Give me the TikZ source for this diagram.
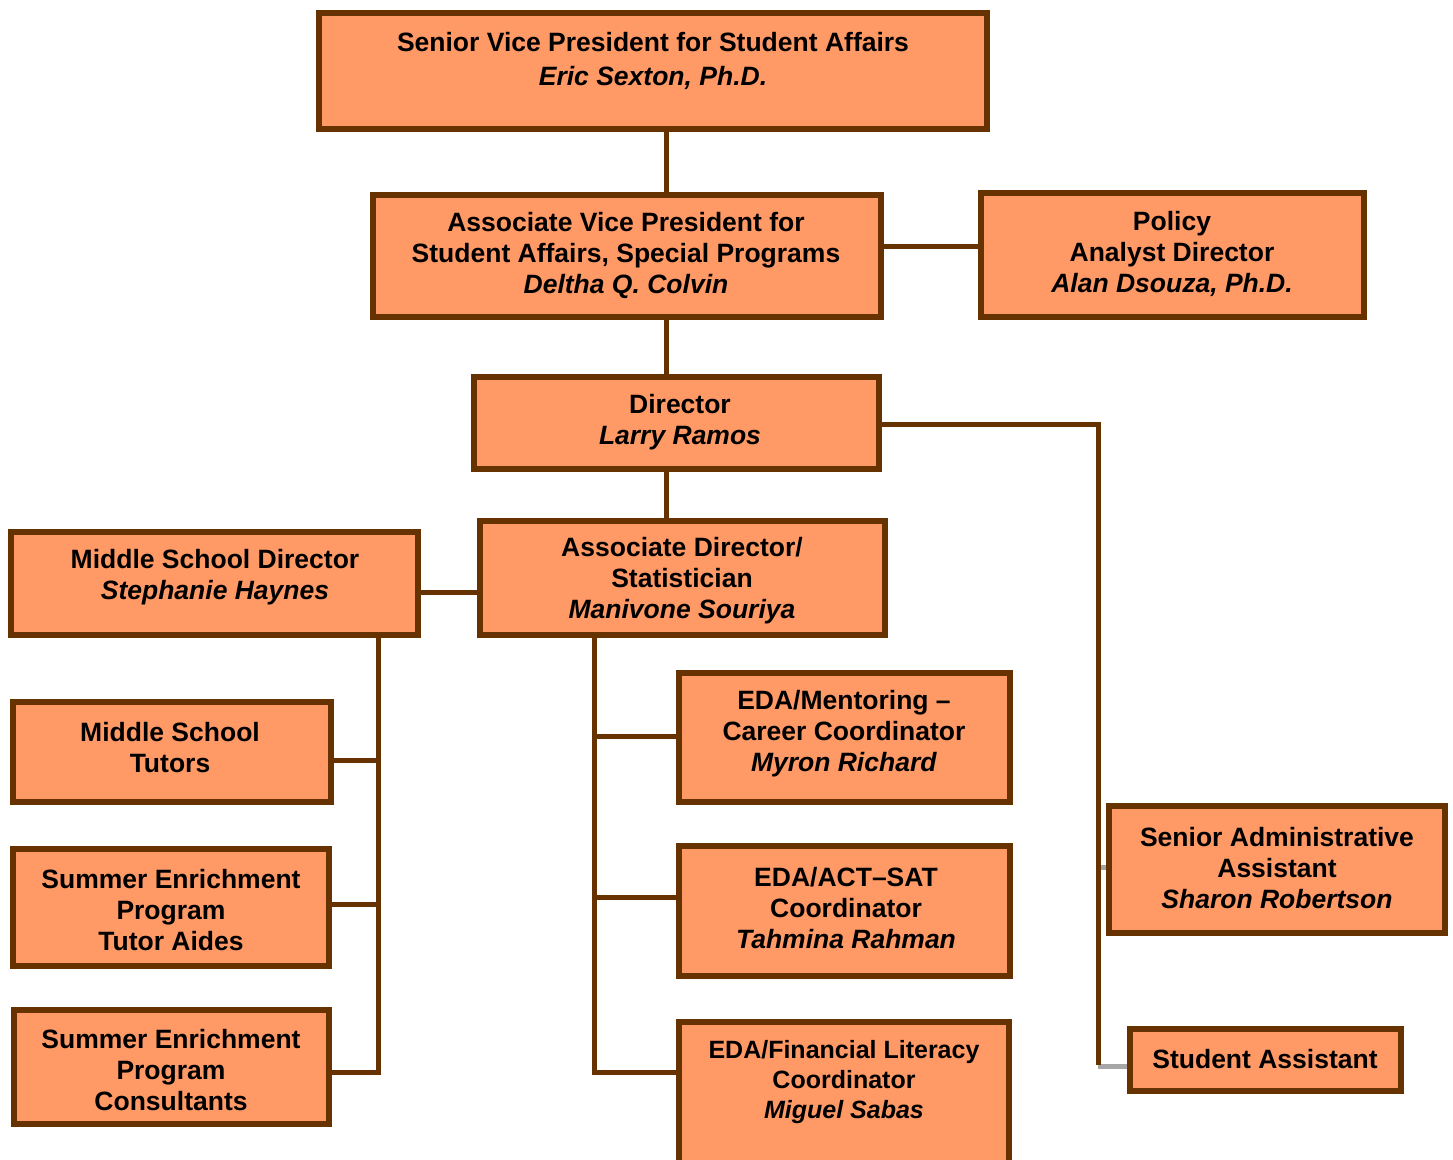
\documentclass[tikz,border=0pt]{standalone}
\usepackage{fontspec}
\setmainfont{Liberation Sans}
\definecolor{org}{HTML}{FF9966}
\definecolor{brd}{HTML}{663300}
\definecolor{gry}{HTML}{A6A6A6}
\pgfdeclarelayer{bg}
\pgfsetlayers{bg,main}
\begin{document}
\begin{tikzpicture}[x=1pt,y=-1pt,
  box/.style={draw=brd, fill=org, line width=6pt, inner sep=0pt, rectangle},
  txt/.style={font=\fontsize{26.5}{31}\selectfont\bfseries, align=center, inner sep=0pt, text=black, yshift=-2.5pt},
  conn/.style={draw=brd, line width=5pt, line join=miter},
  grayc/.style={draw=gry, line width=5pt}]
\useasboundingbox (0,0) rectangle (1453,1159);
% boxes
\node[box, minimum width=668, minimum height=116] (svp) at (653,71) {};
\node[txt, font=\fontsize{26.5}{34}\selectfont\bfseries] (svpt) at (653,58) {Senior Vice President for Student Affairs\\\textit{Eric Sexton, Ph.D.}};
\node[box, minimum width=508, minimum height=122] (avp) at (627,256) {};
\node[txt] (avpt) at (626,252.5) {Associate Vice President for\\Student Affairs, Special Programs\\\textit{Deltha Q. Colvin}};
\node[box, minimum width=383, minimum height=124] (pol) at (1172.5,255) {};
\node[txt] (polt) at (1172,251) {Policy\\Analyst Director\\\textit{Alan Dsouza, Ph.D.}};
\node[box, minimum width=405, minimum height=92] (dir) at (676.5,423) {};
\node[txt] (dirt) at (680,419.5) {Director\\\textit{Larry Ramos}};
\node[box, minimum width=405, minimum height=114] (ad) at (682.5,578) {};
\node[txt] (adt) at (682,578.5) {Associate Director/\\Statistician\\\textit{Manivone Souriya}};
\node[box, minimum width=407, minimum height=103] (msd) at (214.5,583.5) {};
\node[txt] (msdt) at (215,574.5) {Middle School Director\\\textit{Stephanie Haynes}};
\node[box, minimum width=318, minimum height=100] (mst) at (172,752) {};
\node[txt] (mstt) at (170,745.5) {Middle School\\Tutors};
\node[box, minimum width=316, minimum height=117] (sea) at (171,907.5) {};
\node[txt] (seat) at (171,907.5) {Summer Enrichment\\Program\\Tutor Aides};
\node[box, minimum width=315, minimum height=114] (sec) at (171.5,1067) {};
\node[txt] (sect) at (171,1068) {Summer Enrichment\\Program\\Consultants};
\node[box, minimum width=331, minimum height=129] (edam) at (844.5,737.5) {};
\node[txt] (edamt) at (844,731.5) {EDA/Mentoring --\\Career Coordinator\\\textit{Myron Richard}};
\node[box, minimum width=331, minimum height=130] (edas) at (844.5,911) {};
\node[txt] (edast) at (846,905.5) {EDA/ACT--SAT\\Coordinator\\\textit{Tahmina Rahman}};
\node[box, minimum width=330, minimum height=143] (edaf) at (844,1093.5) {};
\node[txt, font=\fontsize{25}{30}\selectfont\bfseries] (edaft) at (844,1080) {EDA/Financial Literacy\\Coordinator\\\textit{Miguel Sabas}};
\node[box, minimum width=336, minimum height=127] (saa) at (1277,869.5) {};
\node[txt] (saat) at (1277,865.5) {Senior Administrative\\Assistant\\\textit{Sharon Robertson}};
\node[box, minimum width=271, minimum height=62] (sa) at (1265.5,1060) {};
\node[txt] (sat) at (1265,1057) {Student Assistant};
% bus coordinates
\coordinate (tx) at (666,0);
\coordinate (py) at (0,246);
\coordinate (my) at (0,592);
\coordinate (rb) at (1098,424);
\coordinate (rbe) at (1098,1066);
\coordinate (rbs) at (1098,867);
\coordinate (lb) at (378,0);
\coordinate (lbe) at (378,1072);
\coordinate (cb) at (594,0);
\coordinate (cbe) at (594,1072);
\begin{pgfonlayer}{bg}
\draw[conn] (svp.south -| tx) -- (avp.north -| tx);
\draw[conn] (avp.south -| tx) -- (dir.north -| tx);
\draw[conn] (dir.south -| tx) -- (ad.north -| tx);
\draw[conn] (avp.east |- py) -- (pol.west |- py);
\draw[conn] (msd.east |- my) -- (ad.west |- my);
\draw[grayc] (rbs) -- (saa.west |- rbs);
\draw[grayc] (rbe) -- (sa.west |- rbe);
\draw[conn] (dir.east |- rb) -- (rb) -- ([yshift=1pt]rbe);
\draw[conn] (msd.south -| lb) -- (lbe) -- (sec.east |- lbe);
\draw[conn] (mst.east |- 0,760) -- (lb |- 0,760);
\draw[conn] (sea.east |- 0,904) -- (lb |- 0,904);
\draw[conn] (ad.south -| cb) -- (cbe) -- (edaf.west |- cbe);
\draw[conn] (cb |- 0,736) -- (edam.west |- 0,736);
\draw[conn] (cb |- 0,897) -- (edas.west |- 0,897);
\end{pgfonlayer}
\end{tikzpicture}
\end{document}
